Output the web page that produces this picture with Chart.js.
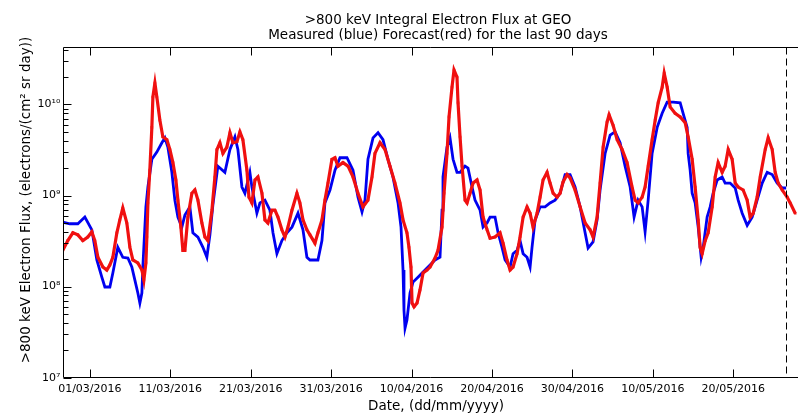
<!DOCTYPE html>
<html><head><meta charset="utf-8">
<script src="https://cdn.jsdelivr.net/npm/chart.js@4.4.1/dist/chart.umd.min.js"></script>
<style>html,body{margin:0;padding:0;background:#fff;}canvas{display:block;}</style>
</head><body>
<canvas id="c" width="798" height="415" style="width:798px;height:415px"></canvas>
<script>
// ---- data (days since 01/03/2016, flux in electrons/(cm2 sr day)) ----
const blueDays = [-3.36,-2.49,-1.49,-0.62,0.25,0.87,1.49,1.87,2.49,2.86,
3.48,4.1,4.73,5.22,5.6,5.97,6.22,6.47,6.59,6.97,
7.22,7.71,8.33,8.96,9.33,9.7,10.2,10.57,10.95,11.44,
11.82,12.44,12.81,13.44,14.06,14.55,14.93,15.3,15.92,16.79,
17.42,18.04,18.41,18.91,19.28,19.9,20.15,20.77,21.15,21.77,
22.39,22.77,23.26,23.88,24.51,25.13,25.88,26.5,26.99,27.37,
28.36,28.86,29.23,29.86,30.48,31.1,31.97,32.72,33.34,33.84,
34.21,34.58,35.21,35.83,36.45,37.07,37.69,38.32,38.69,38.94,
39.06,39.19,39.43,39.81,40.18,40.8,41.43,42.05,42.92,43.54,
43.79,43.91,44.41,44.78,45.16,45.65,46.03,46.65,47.02,47.52,
47.89,48.52,48.89,49.39,49.76,50.38,50.76,51.25,51.63,52.25,
52.62,53.12,53.49,53.87,54.36,54.74,54.98,55.36,55.98,56.6,
57.22,57.85,58.47,59.09,59.71,60.33,60.96,61.58,61.95,62.57,
63.07,63.44,64.07,64.69,65.31,65.93,66.55,67.18,67.67,68.17,
68.67,69.04,69.42,69.91,70.54,71.16,71.78,72.53,73.4,73.89,
74.27,74.39,74.64,74.89,75.26,75.64,76.01,76.26,76.75,77.13,
77.5,78.0,78.62,78.99,79.61,80.24,80.61,81.11,81.73,82.35,
82.97,83.6,84.22,84.84,85.46,86.08,86.58];
const blueFlux = [5.1e8,4.9e8,4.9e8,5.8e8,4.2e8,1.96e8,1.27e8,9.9e7,9.9e7,1.41e8,
2.7e8,2.1e8,2.06e8,1.64e8,1.18e8,8.5e7,6.6e7,8.5e7,1.64e8,7.5e8,
1.24e9,2.5e9,3.0e9,3.8e9,4.3e9,3.4e9,1.8e9,8.9e8,5.8e8,4.5e8,
6.1e8,7.5e8,3.9e8,3.5e8,2.7e8,2.1e8,3.7e8,7.9e8,2.1e9,1.8e9,
3.2e9,4.4e9,3.2e9,1.24e9,1.06e9,1.8e9,1.24e9,6.4e8,8.3e8,8.9e8,
6.9e8,3.9e8,2.3e8,3.2e8,3.9e8,4.5e8,6.4e8,4.2e8,2.1e8,1.96e8,
1.96e8,3.2e8,8.3e8,1.15e9,1.9e9,2.6e9,2.6e9,1.9e9,9.6e8,6.6e8,
8.9e8,2.5e9,4.3e9,4.9e9,4.1e9,2.5e9,1.6e9,8.3e8,4.5e8,1.52e8,
5.5e7,3.5e7,4.3e7,8.5e7,1.12e8,1.27e8,1.45e8,1.64e8,1.96e8,2.1e8,
6.9e8,1.6e9,3.4e9,4.3e9,2.5e9,1.8e9,1.8e9,2.1e9,2.0e9,1.24e9,
8.9e8,6.9e8,4.5e8,5.0e8,5.8e8,5.8e8,3.9e8,2.7e8,1.96e8,1.64e8,
2.3e8,2.5e8,3.2e8,2.3e8,2.1e8,1.64e8,2.7e8,5.4e8,7.5e8,7.5e8,
8.3e8,8.9e8,1.06e9,1.7e9,1.7e9,1.24e9,7.5e8,3.9e8,2.65e8,3.1e8,
5.4e8,1.15e9,2.9e9,4.6e9,5.0e9,3.8e9,2.1e9,1.24e9,5.8e8,8.9e8,
7.5e8,4.0e8,8.9e8,2.9e9,5.6e9,8.0e9,1.06e10,1.06e10,1.04e10,7.3e9,
5.6e9,2.9e9,1.9e9,1.06e9,8.3e8,4.5e8,2.1e8,2.7e8,5.8e8,7.5e8,
1.06e9,1.48e9,1.6e9,1.37e9,1.37e9,1.21e9,8.9e8,6.4e8,4.7e8,5.8e8,
8.9e8,1.37e9,1.8e9,1.7e9,1.37e9,1.21e9,1.21e9];
const redDays = [-3.36,-2.74,-2.11,-1.49,-0.87,-0.25,0.25,0.62,1.0,1.62,
2.11,2.49,2.86,3.36,3.73,4.1,4.6,4.98,5.35,5.97,
6.47,6.72,6.97,7.09,7.22,7.46,7.71,7.84,8.09,8.33,
8.71,9.08,9.58,9.95,10.33,10.7,10.95,11.32,11.57,11.82,
12.19,12.69,13.06,13.44,13.93,14.31,14.68,15.18,15.55,15.8,
16.17,16.55,17.04,17.42,17.79,18.29,18.66,19.03,19.53,19.78,
20.15,20.53,20.9,21.4,21.77,22.14,22.64,23.01,23.39,23.88,
24.26,24.63,25.13,25.75,26.12,26.5,26.99,27.37,27.99,28.36,
28.86,29.23,29.61,30.1,30.48,30.85,31.47,32.1,32.72,33.34,
33.96,34.58,35.08,35.45,36.08,36.7,37.32,37.94,38.56,38.94,
39.43,39.68,39.93,40.06,40.31,40.68,41.05,41.43,41.92,42.3,
42.92,43.29,43.79,44.04,44.41,44.66,45.03,45.28,45.65,45.78,
46.03,46.28,46.65,46.9,47.27,47.65,48.14,48.52,48.89,49.39,
49.76,50.38,51.0,51.38,51.87,52.25,52.62,53.12,53.49,53.87,
54.36,54.74,55.11,55.61,55.98,56.35,56.85,57.22,57.6,58.09,
58.47,58.84,59.34,59.71,60.33,60.96,61.58,62.2,62.57,63.07,
63.44,63.82,64.31,64.56,65.06,65.56,66.18,66.8,67.42,67.8,
68.17,68.67,69.04,69.42,69.91,70.29,70.66,71.16,71.41,71.78,
72.15,72.77,73.4,74.02,74.39,74.89,75.26,75.64,75.88,76.13,
76.51,76.88,77.38,77.75,78.12,78.62,78.99,79.37,79.86,80.24,
80.61,81.23,81.73,82.1,82.48,82.97,83.35,83.97,84.34,84.84,
85.21,85.59,86.08,86.7,87.08,87.7];
const redFlux = [2.5e8,3.2e8,3.9e8,3.7e8,3.2e8,3.5e8,4.0e8,3.2e8,2.1e8,1.64e8,
1.52e8,1.73e8,2.1e8,3.9e8,5.4e8,7.3e8,5.0e8,2.7e8,1.96e8,1.82e8,
1.52e8,1.18e8,1.82e8,3.5e8,8.3e8,1.9e9,5.6e9,1.21e10,1.72e10,1.21e10,
6.7e9,4.4e9,4.1e9,3.2e9,2.3e9,1.48e9,8.9e8,4.5e8,2.5e8,2.5e8,
5.8e8,1.06e9,1.15e9,8.9e8,5.0e8,3.5e8,3.2e8,6.9e8,1.6e9,3.2e9,
3.8e9,2.9e9,3.4e9,4.9e9,3.8e9,3.9e9,5.0e9,4.1e9,1.9e9,9.6e8,
8.3e8,1.48e9,1.6e9,1.06e9,5.4e8,5.0e8,6.9e8,6.9e8,5.8e8,4.2e8,
3.5e8,4.5e8,6.9e8,1.06e9,8.3e8,5.4e8,4.2e8,3.7e8,3.0e8,3.9e8,
5.4e8,8.9e8,1.37e9,2.5e9,2.6e9,2.1e9,2.3e9,2.1e9,1.6e9,1.06e9,
7.5e8,8.9e8,1.6e9,2.9e9,3.8e9,3.2e9,2.1e9,1.37e9,8.3e8,5.4e8,
3.9e8,2.7e8,1.64e8,6.6e7,6.0e7,6.6e7,9.2e7,1.41e8,1.52e8,1.64e8,
2.06e8,2.5e8,4.5e8,1.06e9,2.9e9,7.3e9,1.55e10,2.39e10,2.0e10,1.04e10,
4.4e9,2.1e9,8.9e8,8.3e8,1.06e9,1.37e9,1.48e9,1.15e9,5.8e8,4.2e8,
3.4e8,3.5e8,3.9e8,3.0e8,1.96e8,1.52e8,1.64e8,2.3e8,3.5e8,5.8e8,
7.5e8,6.4e8,4.5e8,6.4e8,9.6e8,1.48e9,1.8e9,1.37e9,1.06e9,9.6e8,
1.06e9,1.41e9,1.7e9,1.56e9,1.15e9,7.5e8,5.0e8,4.2e8,3.5e8,5.8e8,
1.37e9,3.4e9,6.4e9,7.7e9,5.9e9,4.1e9,3.2e9,2.3e9,1.24e9,8.9e8,
8.3e8,9.6e8,1.24e9,2.1e9,4.1e9,6.7e9,1.04e10,1.55e10,2.21e10,1.55e10,
9.4e9,8.0e9,7.3e9,6.3e9,4.4e9,2.5e9,1.24e9,5.4e8,2.7e8,2.3e8,
3.2e8,3.9e8,7.5e8,1.6e9,2.3e9,1.8e9,2.1e9,3.2e9,2.5e9,1.37e9,
1.24e9,1.15e9,8.9e8,5.8e8,6.4e8,9.6e8,1.6e9,3.2e9,4.3e9,3.2e9,
1.8e9,1.37e9,1.15e9,9.6e8,8.3e8,6.4e8];
const xTickDays = [0,10,20,30,40,50,60,70,80];
const xTickLabels = ['01/03/2016','11/03/2016','21/03/2016','31/03/2016','10/04/2016','20/04/2016','30/04/2016','10/05/2016','20/05/2016'];
const yTickExps = [7,8,9,10];
const yTickLabels = ['10\u2077','10\u2078','10\u2079','10\u00B9\u2070'];
const forecastDay = 86.55;
const xMin = -3.3, xMax = 88.05, yMin = 1e7, yMax = 4.24e10;
const titleLines = ['>800 keV Integral Electron Flux at GEO','Measured (blue) Forecast(red) for the last 90 days'];
const xAxisTitle = 'Date, (dd/mm/yyyy)';
const yAxisTitle = '>800 keV Electron Flux, (electrons/(cm\u00B2 sr day))';

const FONT = "'DejaVu Sans', sans-serif";

const overlay = {
  id: 'overlay',
  afterDraw(chart) {
    const ctx = chart.ctx, a = chart.chartArea, xs = chart.scales.x, ys = chart.scales.y;
    ctx.save();
    ctx.strokeStyle = '#000'; ctx.lineWidth = 1;
    const L = Math.round(a.left) + 0.5, T = Math.round(a.top) + 0.5, B = Math.round(a.bottom) - 0.5, R = a.right;
    ctx.beginPath();
    ctx.moveTo(R, T); ctx.lineTo(L, T); ctx.lineTo(L, B); ctx.lineTo(R, B);
    xs.ticks.forEach(t => {
      const px = Math.round(xs.getPixelForValue(t.value)) + 0.5;
      ctx.moveTo(px, B); ctx.lineTo(px, B - 8);
      ctx.moveTo(px, T); ctx.lineTo(px, T + 8);
    });
    ys.ticks.forEach(t => {
      const v = t.value;
      const e = Math.floor(Math.log10(v) + 1e-9);
      const m = v / Math.pow(10, e);
      if (Math.abs(m - Math.round(m)) > 1e-6) return;
      const len = Math.round(m) === 1 ? 8 : 5;
      const py = Math.round(ys.getPixelForValue(v)) + 0.5;
      ctx.moveTo(L, py); ctx.lineTo(L + len, py);
    });
    ctx.stroke();
    const dx = Math.round(xs.getPixelForValue(forecastDay)) + 0.5;
    ctx.setLineDash([7, 4]);
    ctx.beginPath(); ctx.moveTo(dx, T); ctx.lineTo(dx, B); ctx.stroke();
    ctx.setLineDash([]);
    ctx.fillStyle = '#000';
    ctx.font = '13.5px ' + FONT;
    ctx.textAlign = 'center'; ctx.textBaseline = 'alphabetic';
    ctx.fillText(titleLines[0], 438, 23.5);
    ctx.fillText(titleLines[1], 438, 39.3);
    ctx.fillText(xAxisTitle, 436, 409.5);
    ctx.translate(30, 200); ctx.rotate(-Math.PI / 2);
    ctx.fillText(yAxisTitle, 0, 0);
    ctx.restore();
  }
};

new Chart(document.getElementById('c'), {
  type: 'line',
  data: {
    datasets: [
      { label: 'Forecast', data: redDays.map((d, i) => ({ x: d, y: redFlux[i] })),
        borderColor: '#f01010', borderWidth: 3.2, tension: 0, order: 0, fill: false,
        pointRadius: 1.8, pointBorderWidth: 0, pointBackgroundColor: '#f01010', pointStyle: 'rect' },
      { label: 'Measured', data: blueDays.map((d, i) => ({ x: d, y: blueFlux[i] })),
        borderColor: '#0000f0', borderWidth: 2.8, pointRadius: 0, tension: 0, order: 1, fill: false }
    ]
  },
  options: {
    responsive: false, animation: false, devicePixelRatio: 1,
    layout: { autoPadding: false, padding: { top: 47.3, left: 0, right: 0, bottom: 0 } },
    plugins: { legend: { display: false }, title: { display: false }, tooltip: { enabled: false } },
    scales: {
      x: {
        type: 'linear', min: xMin, max: xMax,
        grid: { display: false, drawTicks: false }, border: { display: false },
        afterBuildTicks: s => { s.ticks = xTickDays.map(v => ({ value: v })); },
        afterFit: s => { s.height = 37.3; },
        ticks: { autoSkip: false, maxRotation: 0, padding: 5, color: '#000',
          font: { family: FONT, size: 11 },
          callback: v => { const i = xTickDays.indexOf(v); return i >= 0 ? xTickLabels[i] : ''; } }
      },
      y: {
        type: 'logarithmic', min: yMin, max: yMax,
        grid: { display: false, drawTicks: false }, border: { display: false },
        afterFit: s => { s.width = 63.3; },
        ticks: { autoSkip: false, padding: 3, color: '#000',
          font: { family: FONT, size: 11 },
          callback: v => {
            const e = Math.log10(v);
            if (Math.abs(e - Math.round(e)) > 1e-6) return '';
            const i = yTickExps.indexOf(Math.round(e));
            return i >= 0 ? yTickLabels[i] : '';
          } }
      }
    }
  },
  plugins: [overlay]
});
</script>
</body></html>
